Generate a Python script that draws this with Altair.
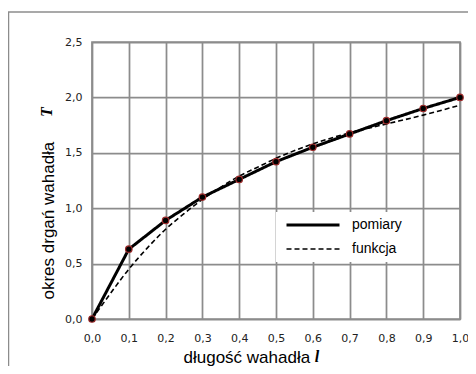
import altair as alt
import pandas as pd

# --- data ---
l_pomiary = [0.0, 0.1, 0.2, 0.3, 0.4, 0.5, 0.6, 0.7, 0.8, 0.9, 1.0]
T_pomiary = [0.0, 0.63, 0.89, 1.10, 1.26, 1.42, 1.55, 1.67, 1.79, 1.90, 2.00]

l_funkcja = [0.0, 0.05, 0.1, 0.15, 0.2, 0.25, 0.3, 0.35, 0.4, 0.45, 0.5, 0.6, 0.7, 0.8, 0.9, 1.0]
T_funkcja = [0.0, 0.23, 0.45, 0.64, 0.81, 0.95, 1.08, 1.19, 1.29, 1.37, 1.45, 1.58, 1.68, 1.76, 1.84, 1.93]

series_names = ["pomiary", "funkcja"]
x_ticks = [0.0, 0.1, 0.2, 0.3, 0.4, 0.5, 0.6, 0.7, 0.8, 0.9, 1.0]
y_ticks = [0.0, 0.5, 1.0, 1.5, 2.0, 2.5]

x_title = "długość wahadła"
y_title = "okres drgań wahadła"
x_symbol = "l"
y_symbol = "T"

df_p = pd.DataFrame({"l": l_pomiary, "T": T_pomiary, "seria": series_names[0]})
df_f = pd.DataFrame({"l": l_funkcja, "T": T_funkcja, "seria": series_names[1]})

GRID = "#8c8c8c"
W, H = 368, 277

x_enc = alt.X(
    "l:Q",
    scale=alt.Scale(domain=[0, 1], nice=False),
    axis=alt.Axis(
        values=x_ticks,
        labelExpr="replace(format(datum.value, '.1f'), '.', ',')",
        labelFlush=False, labelOverlap=False,
        title=x_title,
        titleX=91, titleY=43, titleAlign="left", titleBaseline="alphabetic",
        labelPadding=13,
    ),
)
y_enc = alt.Y(
    "T:Q",
    scale=alt.Scale(domain=[0, 2.5], nice=False),
    axis=alt.Axis(
        values=y_ticks,
        labelExpr="replace(format(datum.value, '.1f'), '.', ',')",
        labelFlush=False, labelOverlap=False,
        title=y_title,
        titleX=-39, titleY=257, titleAlign="left", titleBaseline="alphabetic",
        titleAngle=270,
        labelPadding=10,
    ),
)

legend = alt.Legend(
    orient="none", legendX=184, legendY=170, title=None,
    fillColor="white", padding=1, symbolType="stroke", symbolSize=2809,
    symbolOffset=8, clipHeight=24, rowPadding=0,
    symbolStrokeColor="black", labelFont="Liberation Sans", labelFontSize=14,
    labelColor="black", labelOffset=11,
    labelExpr="datum.label + '       '",
)
dash_enc = alt.StrokeDash(
    "seria:N",
    scale=alt.Scale(domain=series_names, range=[[1, 0], [5, 3]]),
    legend=legend,
)
width_enc = alt.StrokeWidth(
    "seria:N",
    scale=alt.Scale(domain=series_names, range=[3, 1.6]),
    legend=legend,
)

solid = alt.Chart(df_p).mark_line(color="black").encode(
    x=x_enc, y=y_enc, strokeDash=dash_enc, strokeWidth=width_enc
)
dashed = alt.Chart(df_f).mark_line(color="black", interpolate="monotone").encode(
    x=x_enc, y=y_enc, strokeDash=dash_enc, strokeWidth=width_enc
)
points = alt.Chart(df_p).mark_point(
    filled=True, fill="black", stroke="#9b2a2a", strokeWidth=1.2, size=42, opacity=1
).encode(x=x_enc, y=y_enc)

one = pd.DataFrame({"a": [0]})
frame_top = alt.Chart(one).mark_rule(color=GRID, strokeWidth=1.5).encode(
    x=alt.value(-84), x2=alt.value(376), y=alt.value(-30)
)
frame_left = alt.Chart(one).mark_rule(color=GRID, strokeWidth=1.5).encode(
    x=alt.value(-83.5), y=alt.value(-30), y2=alt.value(324)
)
sym_font = dict(font="Liberation Serif", fontStyle="italic", fontWeight="bold", fontSize=16, color="black")
t_sym = alt.Chart(one).mark_text(angle=270, align="center", baseline="middle", **sym_font).encode(
    x=alt.value(-45), y=alt.value(70), text=alt.value(y_symbol)
)
l_sym = alt.Chart(one).mark_text(align="center", baseline="alphabetic", **sym_font).encode(
    x=alt.value(225), y=alt.value(320), text=alt.value(x_symbol)
)

chart = alt.layer(solid, dashed, points, frame_top, frame_left, t_sym, l_sym).properties(
    width=W, height=H,
    autosize=alt.AutoSizeParams(type="none"),
    padding={"left": 84, "top": 34, "right": 8, "bottom": 47},
).configure_view(
    stroke=GRID, strokeWidth=1.75
).configure_axis(
    grid=True, gridColor=GRID, gridWidth=1.75, gridOpacity=1,
    domain=False, ticks=False,
    labelFont="DejaVu Sans", labelFontSize=11, labelColor="#222222",
    titleFont="Liberation Sans", titleFontSize=17, titleFontWeight="normal", titleColor="black",
)

chart.save("out.html", embed_options={"renderer": "svg", "actions": False})
